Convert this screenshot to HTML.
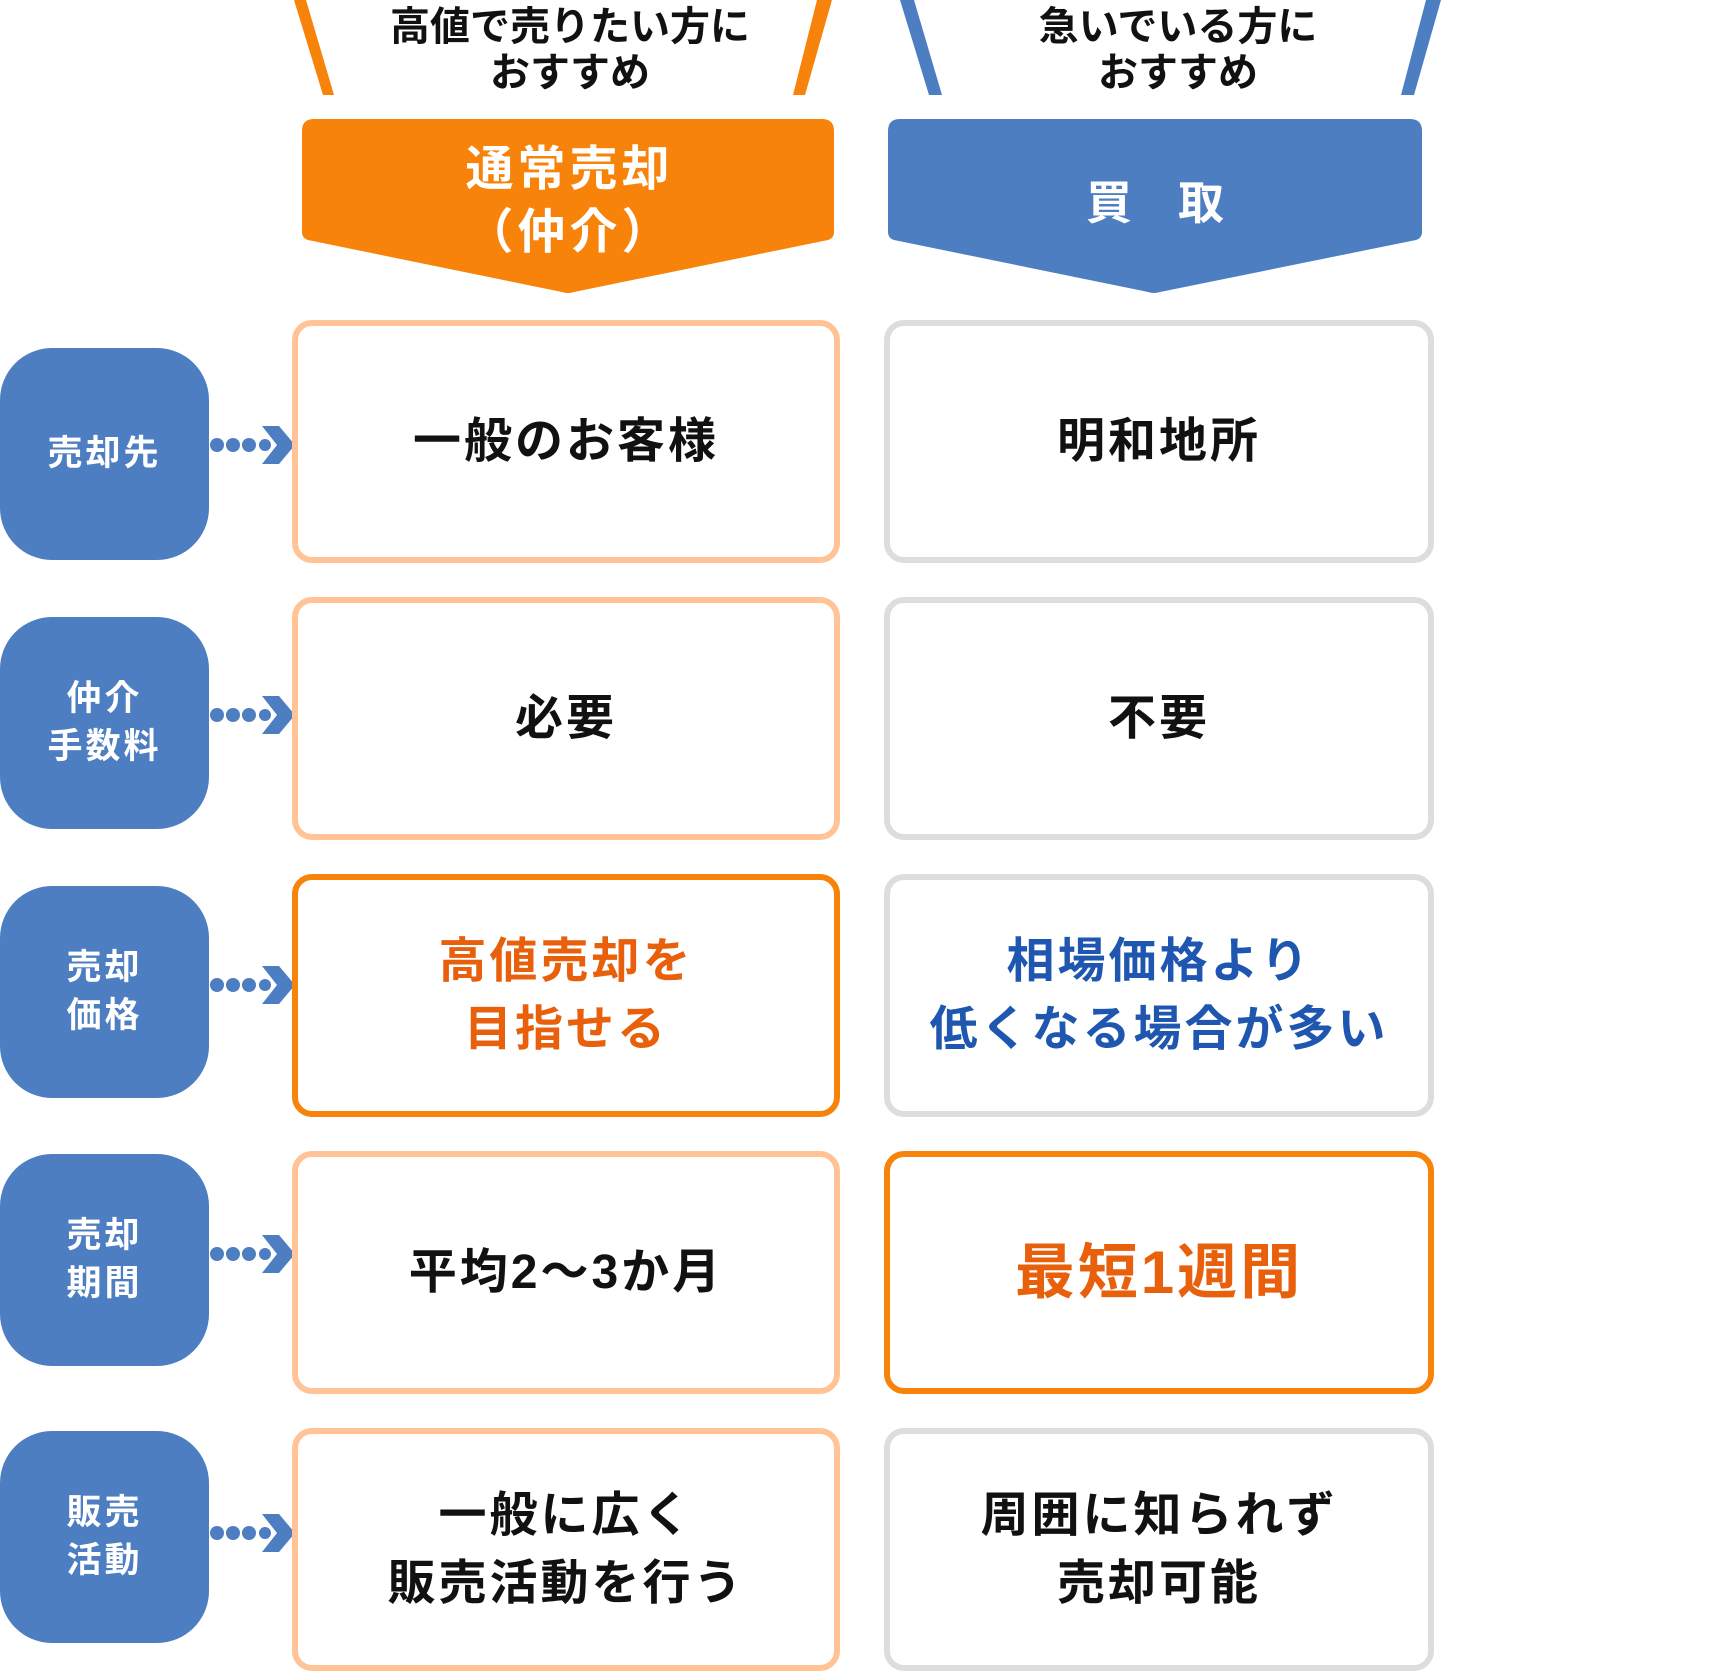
<!DOCTYPE html>
<html><head><meta charset="utf-8">
<style>
html,body{margin:0;padding:0;background:#fff;}
body{width:1720px;height:1680px;position:relative;overflow:hidden;font-family:"Liberation Sans","Noto Sans CJK JP",sans-serif;font-weight:700;}
.a{position:absolute;display:flex;align-items:center;justify-content:center;text-align:center;box-sizing:border-box;}
.box{border:6px solid #FFC396;border-radius:20px;background:#fff;font-size:48px;letter-spacing:3px;line-height:68px;color:#111;}
.g{border-color:#DDDDDD;}
.o{border-color:#F7830A;}
.lab{background:#4D7EC2;border-radius:52px;color:#fff;font-size:35px;line-height:48px;letter-spacing:3px;}
.top{font-size:40px;line-height:46px;color:#111;}
</style></head><body>
<svg width="1720" height="1680" style="position:absolute;left:0;top:0">
  <polygon points="294,0 306,0 334,95 323,95" fill="#F7830A"/>
  <polygon points="817,0 832,0 805,95 793,95" fill="#F7830A"/>
  <polygon points="900,0 914,0 942,95 929,95" fill="#4D7EC2"/>
  <polygon points="1426,0 1441,0 1414,95 1401,95" fill="#4D7EC2"/>
  <path d="M314,119 H822 Q834,119 834,131 V232 Q834,238 828,240 L574,292 Q568,294 562,292 L308,240 Q302,238 302,232 V131 Q302,119 314,119 Z" fill="#F7830A"/>
  <path d="M900,119 H1410 Q1422,119 1422,131 V232 Q1422,238 1416,240 L1160,292 Q1154,294 1148,292 L894,240 Q888,238 888,232 V131 Q888,119 900,119 Z" fill="#4D7EC2"/>
  <g fill="#4D7EC2">
    <g id="ar">
      <circle cx="217" cy="445" r="7"/><circle cx="233" cy="445" r="7"/><circle cx="249" cy="445" r="7"/><circle cx="265" cy="445" r="6"/>
      <polygon points="262,426 279,426 295,445 279,464 262,464 277,445"/>
    </g>
    <use href="#ar" y="270"/>
    <use href="#ar" y="540"/>
    <use href="#ar" y="809"/>
    <use href="#ar" y="1088"/>
  </g>
</svg>
<div class="a top" style="left:380px;top:4px;width:380px;height:92px;">高値で売りたい方に<br>おすすめ</div>
<div class="a top" style="left:978px;top:4px;width:400px;height:92px;">急いでいる方に<br>おすすめ</div>
<div class="a" style="left:302px;top:138px;width:535px;height:126px;color:#fff;font-size:48px;line-height:63px;letter-spacing:4px;">通常売却<br>（仲介）</div>
<div class="a" style="left:888px;top:170px;width:534px;height:60px;color:#fff;font-size:46px;">買　取</div>

<div class="a lab" style="left:0;top:348px;width:209px;height:212px;">売却先</div>
<div class="a lab" style="left:0;top:617px;width:209px;height:212px;">仲介<br>手数料</div>
<div class="a lab" style="left:0;top:886px;width:209px;height:212px;">売却<br>価格</div>
<div class="a lab" style="left:0;top:1154px;width:209px;height:212px;">売却<br>期間</div>
<div class="a lab" style="left:0;top:1431px;width:209px;height:212px;">販売<br>活動</div>

<div class="a box" style="left:292px;top:320px;width:548px;height:243px;">一般のお客様</div>
<div class="a box g" style="left:884px;top:320px;width:550px;height:243px;">明和地所</div>
<div class="a box" style="left:292px;top:597px;width:548px;height:243px;">必要</div>
<div class="a box g" style="left:884px;top:597px;width:550px;height:243px;">不要</div>
<div class="a box o" style="left:292px;top:874px;width:548px;height:243px;color:#E8600C;">高値売却を<br>目指せる</div>
<div class="a box g" style="left:884px;top:874px;width:550px;height:243px;color:#1E56B0;">相場価格より<br>低くなる場合が多い</div>
<div class="a box" style="left:292px;top:1151px;width:548px;height:243px;">平均2～3か月</div>
<div class="a box o" style="left:884px;top:1151px;width:550px;height:243px;color:#E8600C;font-size:60px;">最短1週間</div>
<div class="a box" style="left:292px;top:1428px;width:548px;height:243px;">一般に広く<br>販売活動を行う</div>
<div class="a box g" style="left:884px;top:1428px;width:550px;height:243px;">周囲に知られず<br>売却可能</div>
</body></html>
